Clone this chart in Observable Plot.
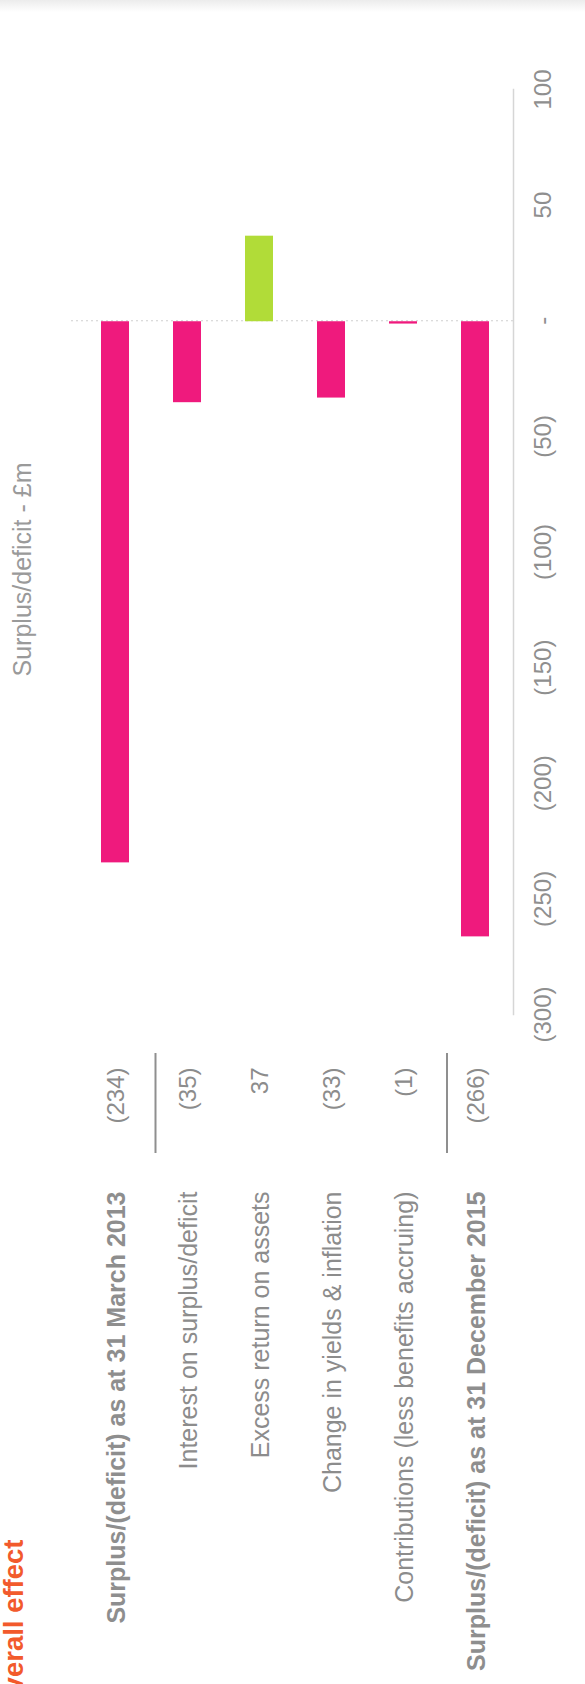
<!DOCTYPE html>
<html>
<head>
<meta charset="utf-8">
<script src="https://cdn.jsdelivr.net/npm/d3@7"></script>
<script src="https://cdn.jsdelivr.net/npm/@observablehq/plot@0.6"></script>
<style>
  html, body { margin: 0; padding: 0; background: #fff; }
  body { width: 585px; height: 1684px; overflow: hidden; position: relative; }
  #strip { position: absolute; left: 0; top: 0; width: 585px; height: 12px;
           background: linear-gradient(#ececec, #ffffff); }
  #chart { position: absolute; left: 0; top: 0; width: 1684px; height: 585px;
           transform-origin: 0 0; transform: translate(0px, 1684px) rotate(-90deg); }
</style>
</head>
<body>
<div id="strip"></div>
<div id="chart"></div>
<script>
const categories = [
  "Surplus/(deficit) as at 31 March 2013",
  "Interest on surplus/deficit",
  "Excess return on assets",
  "Change in yields & inflation",
  "Contributions (less benefits accruing)",
  "Surplus/(deficit) as at 31 December 2015"
];
const values = [-234, -35, 37, -33, -1, -266];
const isTotal = [true, false, false, false, false, true];
const tickValues = [-300, -250, -200, -150, -100, -50, 0, 50, 100];
const axisTitle = "Surplus/deficit - £m";
const chartTitle = "Overall effect";

const pink = "#ef1a7d";
const green = "#b1dc38";
const font = "'Liberation Sans', Arial, sans-serif";

const fmt = v => v < 0 ? `(${-v})` : v === 0 ? "-" : String(v);
const data = categories.map((c, i) => ({category: c, value: values[i], total: isTotal[i]}));

const W = 1684, H = 585;
const mL = 669, mR = 90, mT = 71, mB = 72;

const plot = Plot.plot({
  width: W, height: H,
  marginLeft: mL, marginRight: mR, marginTop: mT, marginBottom: mB,
  style: {fontFamily: font, background: "transparent", overflow: "visible"},
  x: {domain: [-300, 100], label: null},
  y: {domain: categories, range: [55.6, 533.9], padding: 0.61, axis: null},
  color: {type: "identity"},
  marks: [
    Plot.ruleX([0], {stroke: "#cfcfcf", strokeDasharray: "2,3"}),
    Plot.frame({anchor: "bottom", stroke: "#d6d6d6", strokeWidth: 1.5}),
    Plot.barX(data, {x: "value", y: "category", fill: d => d.value < 0 ? pink : green}),
    Plot.axisX({anchor: "bottom", ticks: tickValues, tickFormat: fmt, tickSize: 0,
                tickPadding: 20, fontSize: 24, fill: "#8f8f8f", label: null}),
    Plot.text(data.filter(d => d.total), {y: "category", text: "category", frameAnchor: "left",
                dx: -177, dy: 1, textAnchor: "end", fontSize: 25, fontWeight: "bold", fill: "#8e8e8e"}),
    Plot.text(data.filter(d => !d.total), {y: "category", text: "category", frameAnchor: "left",
                dx: -177, dy: 1, textAnchor: "end", fontSize: 25, fill: "#8c8c8c"}),
    Plot.text(data, {y: "category", text: d => fmt(d.value), frameAnchor: "left",
                dx: -53, dy: 1, textAnchor: "end", fontSize: 24, fill: "#8c8c8c"}),
    Plot.text([axisTitle], {text: d => d, frameAnchor: "top", dx: 1114 - (mL + (W - mR)) / 2,
                dy: 22.75 - mT, lineAnchor: "middle", fontSize: 25, fill: "#9a9a9a"}),
    Plot.text([chartTitle], {text: d => d, frameAnchor: "top-left", dx: 144 - mL, dy: 13.4 - mT,
                textAnchor: "end", lineAnchor: "middle", fontSize: 27.5, fontWeight: "bold", fill: "#f25a2c"})
  ]
});

// total separator lines under the value column
const ys = plot.scale("y");
const bw = ys.bandwidth;
const sepY = [ys.apply(categories[0]) + bw / 2 + 40.5, ys.apply(categories[5]) + bw / 2 - 28];
d3.select(plot).append("g").selectAll("line").data(sepY).join("line")
  .attr("x1", mL - 138).attr("x2", mL - 38)
  .attr("y1", d => d).attr("y2", d => d)
  .attr("stroke", "#8f8f8f").attr("stroke-width", 2);

document.getElementById("chart").appendChild(plot);
</script>
</body>
</html>
